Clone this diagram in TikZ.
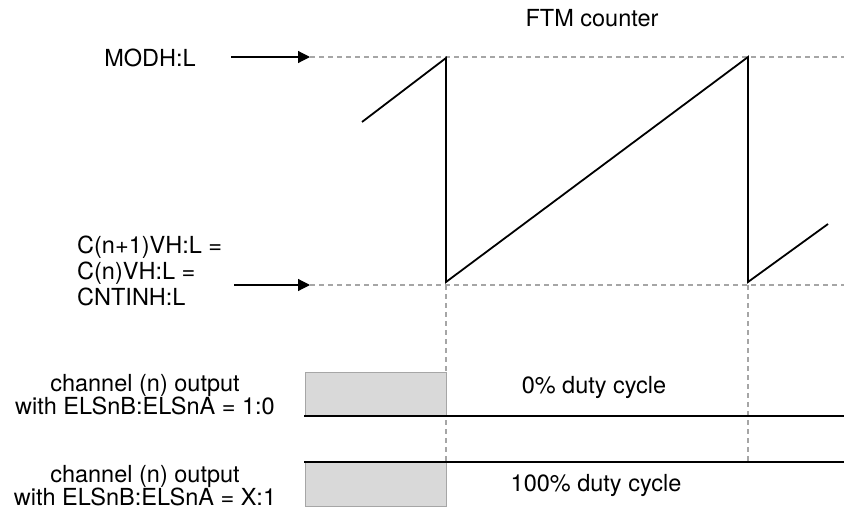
\documentclass[tikz,border=0pt]{standalone}
\usepackage{fontspec}
\setmainfont{TeX Gyre Heros}
\usetikzlibrary{arrows.meta}
\begin{document}
\begin{tikzpicture}[x=1pt,y=-1pt,
  lbl/.style={inner sep=0pt,anchor=base,font=\fontsize{23.5}{27}\selectfont},
  guide/.style={draw=black!35,line width=1.1,dash pattern=on 5 off 4},
  signal/.style={draw=black,line width=1.8,line join=miter},
  ptr/.style={draw=black,line width=1.2,-{Triangle[length=12,width=12]}},
  shade/.style={fill=black!15,draw=black!35,line width=1}]
\useasboundingbox (0,0) rectangle (844,509);
% reference coordinates
\coordinate (modL) at (310,57);
\coordinate (modR) at (844,57);
\coordinate (cntL) at (310,285);
\coordinate (cntR) at (844,285);
\coordinate (a1) at (231,57);
\coordinate (a2) at (234,285);
\coordinate (s0) at (362,122);
\coordinate (p1) at (446,58);
\coordinate (b1) at (446,282);
\coordinate (p2) at (748,57);
\coordinate (b2) at (748,282);
\coordinate (s5) at (828,224);
\coordinate (v1t) at (446,285);
\coordinate (v1b) at (446,462);
\coordinate (v2t) at (748,285);
\coordinate (v2b) at (748,462);
\coordinate (o1L) at (304,416);
\coordinate (o1R) at (844,416);
\coordinate (o2L) at (304,462);
\coordinate (o2R) at (844,462);
% guides
\draw[guide] (modL) -- (modR);
\draw[guide] (cntL) -- (cntR);
\draw[guide] (v1t) -- (v1b);
\draw[guide] (v2t) -- (v2b);
% shaded boxes
\filldraw[shade] (305,372) rectangle (446,416);
\filldraw[shade] (305,462) rectangle (446,506);
% sawtooth counter
\draw[signal] (s0) -- (p1) -- (b1) -- (p2) -- (b2) -- (s5);
% outputs
\draw[signal] (o1L) -- (o1R);
\draw[signal] (o2L) -- (o2R);
% pointers
\draw[ptr] (a1) -- (modL);
\draw[ptr] (a2) -- (cntL);
% labels
\node[lbl] (ftm) at (592,26) {FTM counter};
\node[lbl] (modh) at (150,66) {MODH:L};
\node[lbl,anchor=base west] (c1) at (77,253) {C(n+1)VH:L =};
\node[lbl,anchor=base west] (c2) at (77,279) {C(n)VH:L =};
\node[lbl,anchor=base west] (c3) at (77,305) {CNTINH:L};
\node[lbl] (ch1a) at (145,391) {channel (n) output};
\node[lbl] (ch1b) at (145,414) {with ELSnB:ELSnA = 1:0};
\node[lbl] (ch2a) at (145,482) {channel (n) output};
\node[lbl] (ch2b) at (145,505) {with ELSnB:ELSnA = X:1};
\node[lbl] (d0) at (594,393) {0\% duty cycle};
\node[lbl] (d100) at (596,491) {100\% duty cycle};
\end{tikzpicture}
\end{document}
